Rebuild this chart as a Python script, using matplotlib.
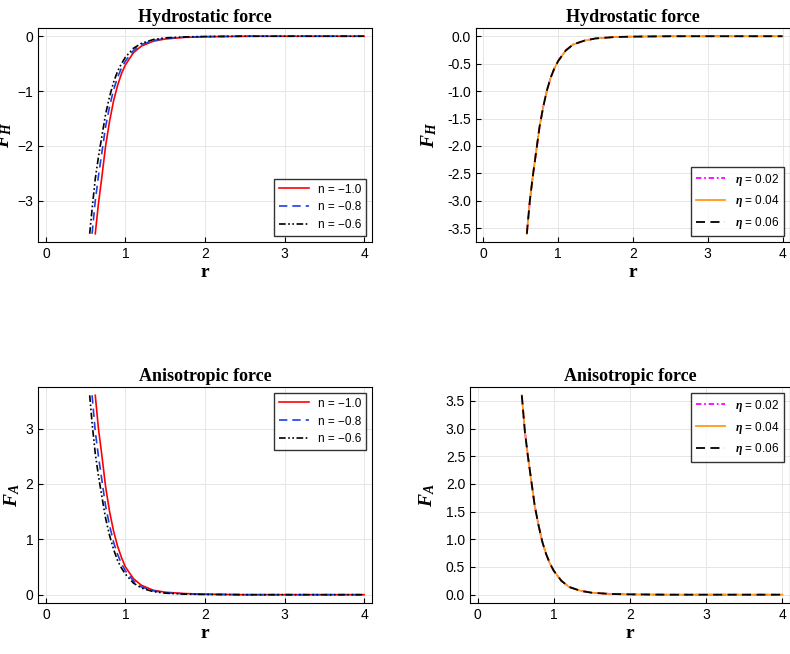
import matplotlib
matplotlib.use("Agg")
import matplotlib.pyplot as plt
import matplotlib.ticker as mticker

# values
r_a = [0.62, 0.66, 0.70, 0.75, 0.80, 0.85, 0.90, 0.95, 1.0, 1.1, 1.2, 1.35, 1.5, 1.75, 2.0, 2.5, 3.0, 4.0]
fh_a = [-3.6, -3.05, -2.6, -2.0, -1.55, -1.18, -0.9, -0.68, -0.52, -0.3, -0.18, -0.09, -0.05, -0.02, -0.01, 0, 0, 0]
r_b = [0.58, 0.62, 0.66, 0.70, 0.75, 0.80, 0.85, 0.90, 0.95, 1.0, 1.1, 1.2, 1.35, 1.5, 1.75, 2.0, 2.5, 3.0, 4.0]
fh_b = [-3.6, -3.0, -2.55, -2.15, -1.65, -1.28, -0.98, -0.75, -0.58, -0.45, -0.26, -0.15, -0.08, -0.04, -0.015, -0.007, 0, 0, 0]
r_c = [0.55, 0.58, 0.62, 0.66, 0.70, 0.75, 0.80, 0.85, 0.90, 0.95, 1.0, 1.1, 1.2, 1.35, 1.5, 1.75, 2.0, 2.5, 3.0, 4.0]
fh_c = [-3.6, -3.15, -2.6, -2.2, -1.85, -1.42, -1.1, -0.84, -0.64, -0.5, -0.38, -0.22, -0.13, -0.06, -0.03, -0.012, -0.005, 0, 0, 0]
fa_a = [3.6, 3.0, 2.55, 1.95, 1.5, 1.15, 0.88, 0.67, 0.5, 0.29, 0.17, 0.08, 0.045, 0.02, 0.01, 0, 0, 0]
fa_b = [3.6, 2.95, 2.5, 2.1, 1.6, 1.25, 0.95, 0.73, 0.56, 0.43, 0.25, 0.14, 0.07, 0.035, 0.013, 0.006, 0, 0, 0]
fa_c = [3.6, 3.1, 2.55, 2.15, 1.8, 1.38, 1.07, 0.82, 0.62, 0.48, 0.37, 0.21, 0.12, 0.055, 0.028, 0.01, 0.004, 0, 0, 0]
n_labels = ["n = \u22121.0", "n = \u22120.8", "n = \u22120.6"]
eta_labels = [r"$\eta$ = 0.02", r"$\eta$ = 0.04", r"$\eta$ = 0.06"]

plt.rcParams["font.family"] = "Liberation Serif"
plt.rcParams["mathtext.fontset"] = "custom"
plt.rcParams["mathtext.it"] = "Liberation Serif:italic:bold"
plt.rcParams["mathtext.rm"] = "Liberation Serif:bold"
fig = plt.figure(figsize=(7.9, 6.54), dpi=100)
W, H = 790, 654
def ax_at(x0, y0, x1, y1):
    return fig.add_axes([x0 / W, 1 - y1 / H, (x1 - x0) / W, (y1 - y0) / H])

axes = [ax_at(38, 28, 372, 242), ax_at(476, 28, 790, 242),
        ax_at(38, 387, 372, 603), ax_at(470, 387, 790, 603)]

n_styles = [dict(color="red", ls="-"), dict(color="#1f3fe0", ls=(0, (5, 3))), dict(color="black", ls=(0, (4, 1.5, 1, 1.5, 1, 1.5)))]
e_styles = [dict(color="magenta", ls=(0, (3, 1.5, 1, 1.5))), dict(color="#ff9a1a", ls="-"), dict(color="black", ls=(0, (5, 3)))]

ax = axes[0]
for (rr, yy), lab, st in zip([(r_a, fh_a), (r_b, fh_b), (r_c, fh_c)], n_labels, n_styles):
    ax.plot(rr, yy, lw=1.2, label=lab, **st)
ax = axes[1]
for lab, st in zip(eta_labels, e_styles):
    ax.plot(r_b, fh_b, lw=1.3, label=lab, **st)
ax = axes[2]
for (rr, yy), lab, st in zip([(r_a, fa_a), (r_b, fa_b), (r_c, fa_c)], n_labels, n_styles):
    ax.plot(rr, yy, lw=1.2, label=lab, **st)
ax = axes[3]
for lab, st in zip(eta_labels, e_styles):
    ax.plot(r_b, fa_b, lw=1.3, label=lab, **st)

titles = ["Hydrostatic force", "Hydrostatic force", "Anisotropic force", "Anisotropic force"]
for i, ax in enumerate(axes):
    ax.set_xlim(-0.1, 4.1)
    ax.set_xticks([0, 1, 2, 3, 4])
    ax.set_title(titles[i], fontweight="bold", fontsize=13, pad=4)
    ax.set_xlabel("r", fontweight="bold", fontsize=14, labelpad=2)
    ax.set_ylabel("$F_H$" if i < 2 else "$F_A$", fontsize=14, labelpad=2 if i % 2 == 0 else 6)
    ax.grid(True, color="#e6e6e6", lw=0.7)
    ax.tick_params(labelsize=10, direction="in")
    for t in ax.get_xticklabels() + ax.get_yticklabels():
        t.set_fontfamily("Liberation Sans")
    leg = ax.legend(loc="lower right" if i < 2 else "upper right",
                    prop={"family": "Liberation Sans", "size": 8.5},
                    fancybox=False, edgecolor="black", handlelength=2.5)
axes[0].set_ylim(-3.75, 0.15); axes[0].set_yticks([0, -1, -2, -3])
axes[1].set_ylim(-3.75, 0.15); axes[1].set_yticks([0, -0.5, -1, -1.5, -2, -2.5, -3, -3.5])
axes[2].set_ylim(-0.15, 3.75); axes[2].set_yticks([0, 1, 2, 3])
axes[3].set_ylim(-0.15, 3.75); axes[3].set_yticks([0, 0.5, 1, 1.5, 2, 2.5, 3, 3.5])
for ax in (axes[1], axes[3]):
    ax.yaxis.set_major_formatter(mticker.FormatStrFormatter("%.1f"))
for ax in axes:
    for t in ax.get_xticklabels() + ax.get_yticklabels():
        t.set_fontfamily("Liberation Sans")
fig.savefig("out.png", dpi=100)
